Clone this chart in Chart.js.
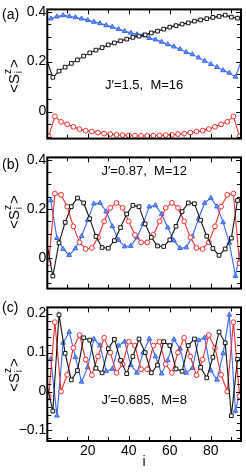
<!DOCTYPE html>
<html>
<head>
<meta charset="utf-8">
<script src="https://cdn.jsdelivr.net/npm/chart.js@4.4.1/dist/chart.umd.min.js"></script>
<style>
  html, body { margin: 0; padding: 0; background: #fff; }
  body { width: 246px; height: 472px; position: relative; overflow: hidden; }
  canvas { position: absolute; left: 0; }
</style>
</head>
<body>
<canvas id="panelA" width="246" height="148" style="top:0"></canvas>
<canvas id="panelB" width="246" height="150" style="top:148px"></canvas>
<canvas id="panelC" width="246" height="174" style="top:298px"></canvas>
<script>
// sites of the three sublattices (squares / circles / triangles)
const SITE_SQ = [0,3,6,9,12,15,18,21,24,27,30,33,36,39,42,45,48,51,54,57,60,63,66,69,72,75,78,81,84,87,90,93];
const SITE_CI = [1,4,7,10,13,16,19,22,25,28,31,34,37,40,43,46,49,52,55,58,61,64,67,70,73,76,79,82,85,88,91,94];
const SITE_TR = [2,5,8,11,14,17,20,23,26,29,32,35,38,41,44,47,50,53,56,59,62,65,68,71,74,77,80,83,86,89,92,95];

// (a) J'=1.5, M=16
const SQ_A = [0.207,0.137,0.162,0.178,0.193,0.207,0.222,0.235,0.246,0.256,0.267,0.275,0.283,0.290,0.297,0.302,0.307,0.315,0.322,0.330,0.338,0.344,0.350,0.355,0.362,0.367,0.372,0.377,0.381,0.386,0.378,0.374];
const CI_A = [-0.099,-0.019,-0.041,-0.051,-0.061,-0.070,-0.076,-0.080,-0.084,-0.088,-0.090,-0.093,-0.094,-0.095,-0.096,-0.097,-0.097,-0.096,-0.095,-0.094,-0.093,-0.090,-0.088,-0.084,-0.080,-0.076,-0.070,-0.061,-0.051,-0.041,-0.019,-0.099];
const TR_A = [0.372,0.380,0.385,0.381,0.377,0.372,0.366,0.359,0.353,0.345,0.339,0.330,0.322,0.315,0.309,0.305,0.294,0.288,0.279,0.269,0.260,0.250,0.238,0.229,0.216,0.203,0.190,0.178,0.165,0.155,0.139,0.207];

// (b) J'=0.87, M=12
const SQ_B = [0.064,-0.072,0.063,0.146,0.210,0.245,0.225,0.161,0.089,0.044,0.041,0.072,0.125,0.180,0.215,0.210,0.140,0.085,0.050,0.048,0.075,0.130,0.190,0.225,0.222,0.155,0.090,0.040,0.012,0.038,0.082,0.235];
const CI_B = [-0.020,0.263,0.258,0.210,0.130,0.065,0.038,0.042,0.085,0.150,0.205,0.225,0.205,0.150,0.095,0.065,0.065,0.095,0.150,0.205,0.225,0.205,0.150,0.085,0.042,0.038,0.065,0.130,0.210,0.258,0.263,-0.020];
const TR_B = [0.235,0.082,0.038,0.013,0.040,0.090,0.155,0.222,0.225,0.190,0.130,0.075,0.048,0.050,0.085,0.140,0.210,0.215,0.180,0.125,0.072,0.041,0.044,0.089,0.161,0.225,0.245,0.210,0.146,0.063,-0.072,0.064];

// (c) J'=0.685, M=8
const SQ_C = [0.019,-0.050,0.197,0.098,0.030,0.054,0.138,0.132,0.060,0.048,0.110,0.134,0.080,0.046,0.090,0.135,0.100,0.048,0.068,0.128,0.118,0.058,0.052,0.118,0.135,0.062,0.035,0.088,0.153,0.125,-0.062,0.083];
const CI_C = [-0.012,0.178,0.000,0.043,0.112,0.145,0.082,0.042,0.090,0.138,0.100,0.048,0.070,0.128,0.118,0.057,0.057,0.118,0.128,0.070,0.048,0.100,0.138,0.090,0.042,0.082,0.145,0.112,0.043,0.000,0.178,-0.012];
const TR_C = [0.083,-0.062,0.125,0.153,0.088,0.025,0.062,0.135,0.118,0.052,0.058,0.118,0.128,0.068,0.048,0.100,0.135,0.090,0.046,0.080,0.134,0.110,0.048,0.060,0.132,0.138,0.054,0.030,0.098,0.197,-0.050,0.019];

// axis ticks
const X_TICKS = [10,20,30,40,50,60,70,80,90];
const X_LABELS = [20,40,60,80];
const Y_TICKS_AB = [-0.1,-0.05,0,0.05,0.1,0.15,0.2,0.25,0.3,0.35,0.4];
const Y_LABELS_AB = [0,0.2,0.4];
const Y_TICKS_C = [-0.12,-0.1,-0.08,-0.06,-0.04,-0.02,0,0.02,0.04,0.06,0.08,0.1,0.12,0.14,0.16,0.18,0.2];
const Y_LABELS_C = [-0.1,0,0.1,0.2];

const FONT = '"Liberation Sans", Arial, sans-serif';
const X_MIN = 0.3, X_MAX = 94.7;
const PLOT_LEFT = 47.3;
const BLACK = '#111111', RED = '#ee2d2d', BLUE = '#3366ee';

Chart.defaults.font.family = FONT;
Chart.defaults.color = '#000';

function pts(sites, vals) {
    return sites.map((s, k) => ({x: s, y: vals[k]}));
}

// points that sit outside the frame only feed the line
function radius(r) {
    return c => (c.raw && (c.raw.x < X_MIN || c.raw.x > X_MAX)) ? 0 : r;
}

function fmtY(v) {
    if (v === 0) return '0';
    return (v < 0 ? '\u2212' : '') + Math.abs(v).toFixed(1);
}

// <S_i^z> written with stacked sub/superscript, rotated
function drawSz(ctx, cx, cy) {
    const big = '15px ' + FONT, small = '10px ' + FONT;
    ctx.save();
    ctx.translate(cx, cy);
    ctx.rotate(-Math.PI / 2);
    ctx.textBaseline = 'alphabetic';
    ctx.textAlign = 'left';
    ctx.font = big;
    const wLead = ctx.measureText('<S').width;
    const wTail = ctx.measureText('>').width;
    ctx.font = small;
    const wMid = ctx.measureText('z').width + 1;
    let tx = -(wLead + wMid + wTail) / 2;
    ctx.font = big;
    ctx.fillText('<S', tx, 5.5);
    tx += wLead;
    ctx.font = small;
    ctx.fillText('z', tx, -2.5);
    ctx.fillText('i', tx + 0.8, 9);
    tx += wMid;
    ctx.font = big;
    ctx.fillText('>', tx, 5.5);
    ctx.restore();
}

// frame with inward ticks on all four sides, plus panel texts
const decor = {
    id: 'decor',
    afterDraw(chart, args, o) {
        const {ctx, chartArea: a, scales: {x, y}} = chart;
        ctx.save();
        ctx.strokeStyle = '#000';
        ctx.lineWidth = 1;
        ctx.beginPath();
        X_TICKS.forEach(v => {
            const px = Math.round(x.getPixelForValue(v)) + 0.5;
            const len = X_LABELS.includes(v) ? 5 : 4;
            ctx.moveTo(px, a.bottom); ctx.lineTo(px, a.bottom - len);
            ctx.moveTo(px, a.top); ctx.lineTo(px, a.top + len);
        });
        o.yTicks.forEach(v => {
            const py = Math.round(y.getPixelForValue(v)) + 0.5;
            const len = o.yLabels.includes(v) ? 5 : 4;
            ctx.moveTo(a.left, py); ctx.lineTo(a.left + len, py);
            ctx.moveTo(a.right, py); ctx.lineTo(a.right - len, py);
        });
        ctx.stroke();
        ctx.lineWidth = 2;
        ctx.strokeRect(a.left, a.top, a.right - a.left, a.bottom - a.top);

        ctx.fillStyle = '#000';
        ctx.font = '14px ' + FONT;
        ctx.textAlign = 'left';
        ctx.textBaseline = 'middle';
        ctx.fillText(o.panel, 2, o.panelY);

        ctx.font = '13px ' + FONT;
        ctx.textAlign = 'center';
        ctx.fillText(o.note, x.getPixelForValue(47.5), y.getPixelForValue(o.noteY));

        drawSz(ctx, 13, o.titleY);
        ctx.restore();
    }
};

function makePanel(id, sq, ci, tr, p) {
    const ctx = document.getElementById(id).getContext('2d');
    return new Chart(ctx, {
        type: 'line',
        data: {
            datasets: [
                {
                    data: pts(SITE_SQ, sq),
                    borderColor: BLACK,
                    borderWidth: 1.1,
                    pointStyle: 'rect',
                    pointRadius: radius(2.6),
                    pointBorderWidth: 1,
                    pointBorderColor: BLACK,
                    pointBackgroundColor: '#fff'
                },
                {
                    data: pts(SITE_CI, ci),
                    borderColor: RED,
                    borderWidth: 1.1,
                    pointStyle: 'circle',
                    pointRadius: radius(2.4),
                    pointBorderWidth: 1,
                    pointBorderColor: RED,
                    pointBackgroundColor: '#fff'
                },
                {
                    data: pts(SITE_TR, tr),
                    borderColor: BLUE,
                    borderWidth: 1.1,
                    pointStyle: 'triangle',
                    pointRadius: radius(2.7),
                    pointBorderWidth: 1,
                    pointBorderColor: BLUE,
                    pointBackgroundColor: '#6f94f4'
                }
            ]
        },
        options: {
            responsive: false,
            animation: false,
            events: [],
            clip: 0,
            layout: { padding: { top: p.padTop, right: 1.5, left: 0, bottom: 0 } },
            elements: { line: { tension: 0 } },
            scales: {
                x: {
                    type: 'linear',
                    min: X_MIN,
                    max: X_MAX,
                    afterFit: s => { s.height = p.xHeight; },
                    afterBuildTicks: s => { s.ticks = X_LABELS.map(v => ({value: v})); },
                    grid: { display: false, drawTicks: false },
                    border: { display: false },
                    ticks: {
                        display: p.xLabels,
                        autoSkip: false,
                        maxRotation: 0,
                        padding: 2,
                        font: { size: 14 },
                        color: '#000'
                    },
                    title: {
                        display: p.xLabels,
                        text: 'i',
                        font: { size: 14 },
                        color: '#000',
                        padding: { top: 0, bottom: 1 }
                    }
                },
                y: {
                    type: 'linear',
                    min: p.yMin,
                    max: p.yMax,
                    afterFit: s => { s.width = PLOT_LEFT; },
                    afterBuildTicks: s => { s.ticks = p.yLabels.map(v => ({value: v})); },
                    grid: { display: false, drawTicks: false },
                    border: { display: false },
                    ticks: {
                        autoSkip: false,
                        padding: 1,
                        font: { size: 14 },
                        color: '#000',
                        callback: v => fmtY(v)
                    }
                }
            },
            plugins: {
                legend: { display: false },
                tooltip: { enabled: false },
                decor: {
                    yTicks: p.yTicks,
                    yLabels: p.yLabels,
                    panel: p.panel,
                    panelY: p.panelY,
                    note: p.note,
                    noteY: p.noteY,
                    titleY: p.titleY
                }
            }
        },
        plugins: [decor]
    });
}

window.onload = () => {
    makePanel('panelA', SQ_A, CI_A, TR_A, {
        padTop: 6, xHeight: 6.3, xLabels: false,
        yMin: -0.108, yMax: 0.409, yTicks: Y_TICKS_AB, yLabels: Y_LABELS_AB,
        panel: '(a)', panelY: 15, note: 'J\u2032=1.5,  M=16', noteY: 0.104, titleY: 76
    });
    makePanel('panelB', SQ_B, CI_B, TR_B, {
        padTop: 6, xHeight: 4, xLabels: false,
        yMin: -0.123, yMax: 0.41, yTicks: Y_TICKS_AB, yLabels: Y_LABELS_AB,
        panel: '(b)', panelY: 17, note: 'J\u2032=0.87,  M=12', noteY: 0.353, titleY: 64
    });
    makePanel('panelC', SQ_C, CI_C, TR_C, {
        padTop: 5, xHeight: 31, xLabels: true,
        yMin: -0.127, yMax: 0.216, yTicks: Y_TICKS_C, yLabels: Y_LABELS_C,
        panel: '(c)', panelY: 10, note: 'J\u2032=0.685,  M=8', noteY: -0.0216, titleY: 77
    });
};
</script>
</body>
</html>
